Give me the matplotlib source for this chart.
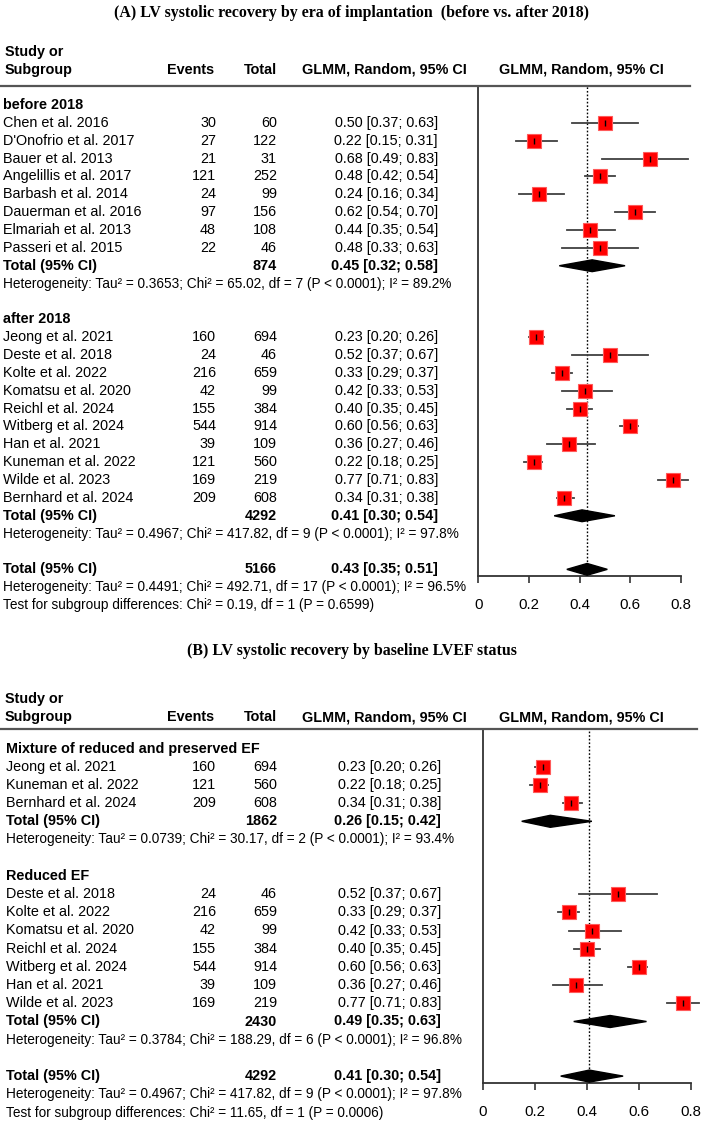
import matplotlib.pyplot as plt
from matplotlib.lines import Line2D
from matplotlib.patches import Polygon
from matplotlib.transforms import blended_transform_factory

plt.rcParams["font.family"] = ["Liberation Sans", "DejaVu Sans"]

W, H = 703, 1123

# ---------------- Panel A: era of implantation ----------------
a_title = "(A) LV systolic recovery by era of implantation  (before vs. after 2018)"
a_groups = ["before 2018", "after 2018"]

a1_studies = ["Chen et al. 2016", "D'Onofrio et al. 2017", "Bauer et al. 2013",
              "Angelillis et al. 2017", "Barbash et al. 2014", "Dauerman et al. 2016",
              "Elmariah et al. 2013", "Passeri et al. 2015"]
a1_events = [30, 27, 21, 121, 24, 97, 48, 22]
a1_total = [60, 122, 31, 252, 99, 156, 108, 46]
a1_est = [0.50, 0.22, 0.68, 0.48, 0.24, 0.62, 0.44, 0.48]
a1_lo = [0.37, 0.15, 0.49, 0.42, 0.16, 0.54, 0.35, 0.33]
a1_hi = [0.63, 0.31, 0.83, 0.54, 0.34, 0.70, 0.54, 0.63]

a2_studies = ["Jeong et al. 2021", "Deste et al. 2018", "Kolte et al. 2022",
              "Komatsu et al. 2020", "Reichl et al. 2024", "Witberg et al. 2024",
              "Han et al. 2021", "Kuneman et al. 2022", "Wilde et al. 2023",
              "Bernhard et al. 2024"]
a2_events = [160, 24, 216, 42, 155, 544, 39, 121, 169, 209]
a2_total = [694, 46, 659, 99, 384, 914, 109, 560, 219, 608]
a2_est = [0.23, 0.52, 0.33, 0.42, 0.40, 0.60, 0.36, 0.22, 0.77, 0.34]
a2_lo = [0.20, 0.37, 0.29, 0.33, 0.35, 0.56, 0.27, 0.18, 0.71, 0.31]
a2_hi = [0.26, 0.67, 0.37, 0.53, 0.45, 0.63, 0.46, 0.25, 0.83, 0.38]

a_sub_n = [874, 4292]
a_sub_est = [0.45, 0.41]
a_sub_lo = [0.32, 0.30]
a_sub_hi = [0.58, 0.54]
a_sub_het = ["Heterogeneity: Tau² = 0.3653; Chi² = 65.02, df = 7 (P < 0.0001); I² = 89.2%",
             "Heterogeneity: Tau² = 0.4967; Chi² = 417.82, df = 9 (P < 0.0001); I² = 97.8%"]
a_all = (5166, 0.43, 0.35, 0.51)
a_all_het = "Heterogeneity: Tau² = 0.4491; Chi² = 492.71, df = 17 (P < 0.0001); I² = 96.5%"
a_test = "Test for subgroup differences: Chi² = 0.19, df = 1 (P = 0.6599)"

# ---------------- Panel B: baseline LVEF ----------------
b_title = "(B) LV systolic recovery by baseline LVEF status"
b_groups = ["Mixture of reduced and preserved EF", "Reduced EF"]

b1_studies = ["Jeong et al. 2021", "Kuneman et al. 2022", "Bernhard et al. 2024"]
b1_events = [160, 121, 209]
b1_total = [694, 560, 608]
b1_est = [0.23, 0.22, 0.34]
b1_lo = [0.20, 0.18, 0.31]
b1_hi = [0.26, 0.25, 0.38]

b2_studies = ["Deste et al. 2018", "Kolte et al. 2022", "Komatsu et al. 2020",
              "Reichl et al. 2024", "Witberg et al. 2024", "Han et al. 2021",
              "Wilde et al. 2023"]
b2_events = [24, 216, 42, 155, 544, 39, 169]
b2_total = [46, 659, 99, 384, 914, 109, 219]
b2_est = [0.52, 0.33, 0.42, 0.40, 0.60, 0.36, 0.77]
b2_lo = [0.37, 0.29, 0.33, 0.35, 0.56, 0.27, 0.71]
b2_hi = [0.67, 0.37, 0.53, 0.45, 0.63, 0.46, 0.83]

b_sub_n = [1862, 2430]
b_sub_est = [0.26, 0.49]
b_sub_lo = [0.15, 0.35]
b_sub_hi = [0.42, 0.63]
b_sub_het = ["Heterogeneity: Tau² = 0.0739; Chi² = 30.17, df = 2 (P < 0.0001); I² = 93.4%",
             "Heterogeneity: Tau² = 0.3784; Chi² = 188.29, df = 6 (P < 0.0001); I² = 96.8%"]
b_all = (4292, 0.41, 0.30, 0.54)
b_all_het = "Heterogeneity: Tau² = 0.4967; Chi² = 417.82, df = 9 (P < 0.0001); I² = 97.8%"
b_test = "Test for subgroup differences: Chi² = 11.65, df = 1 (P = 0.0006)"

x_ticks = [0, 0.2, 0.4, 0.6, 0.8]

FS = 10.4      # table text
FS_HET = 9.8   # heterogeneity lines


def ci_text(e, lo, hi):
    return f"{e:.2f} [{lo:.2f}; {hi:.2f}]"


def draw_panel(fig, title, groups, studies, events, totals, est, lo, hi,
               sub_n, sub_est, sub_lo, sub_hi, sub_het, overall, all_het, test, lay):
    px = lambda x: x / W
    py = lambda y: 1 - y / H

    fig.text(px(352), py(lay["title_y"]), title, ha="center", va="center",
             family="Liberation Serif", weight="bold", fontsize=11.4)

    # column headers
    hy1, hy2 = lay["head_y"], lay["head_y"] + 18
    hkw = dict(weight="bold", fontsize=FS, va="center")
    fig.text(px(5), py(hy1), "Study or", **hkw)
    fig.text(px(5), py(hy2), "Subgroup", **hkw)
    fig.text(px(167), py(hy2), "Events", **hkw)
    fig.text(px(244), py(hy2), "Total", **hkw)
    fig.text(px(302), py(hy2), "GLMM, Random, 95% CI", **hkw)
    fig.text(px(499), py(hy2), "GLMM, Random, 95% CI", **hkw)
    fig.add_artist(Line2D([0, px(lay["line_x1"])], [py(lay["ytop"])] * 2,
                          color="#555555", lw=1.6))

    ax = fig.add_axes([px(lay["x0"]), py(lay["ybot"]),
                       px(lay["x1"] - lay["x0"]), (lay["ybot"] - lay["ytop"]) / H])
    r_top = (lay["ytop"] - lay["row0"]) / lay["step"]
    r_bot = (lay["ybot"] - lay["row0"]) / lay["step"]
    ax.set_xlim(0, 0.8)
    ax.set_ylim(r_bot, r_top)
    ax.set_facecolor("none")
    for s in ["top", "right"]:
        ax.spines[s].set_visible(False)
    ax.spines["left"].set_color("#333333")
    ax.spines["left"].set_linewidth(1.3)
    ax.spines["bottom"].set_color("#333333")
    ax.spines["bottom"].set_linewidth(1.3)
    ax.set_yticks([])
    ax.set_xticks(x_ticks)
    ax.set_xticklabels([f"{t:g}" for t in x_ticks])
    ax.tick_params(axis="x", length=5, width=1.2, color="#333333",
                   labelsize=10.8, pad=11)

    tr = blended_transform_factory(fig.transFigure, ax.transData)
    xs, xe, xt, xc = px(lay["xs"]), px(216), px(277), px(lay["xc"])

    ax.axvline(overall[1], color="black", ls=(0, (1.2, 1.4)), lw=1.0, zorder=1)

    r = 0
    for g in range(2):
        fig.text(xs, r, groups[g], transform=tr, weight="bold", fontsize=FS, va="center")
        r += 1
        for i in range(len(studies[g])):
            fig.text(xs, r, studies[g][i], transform=tr, fontsize=FS, va="center")
            fig.text(xe, r, str(events[g][i]), transform=tr, fontsize=FS, va="center", ha="right")
            fig.text(xt, r, str(totals[g][i]), transform=tr, fontsize=FS, va="center", ha="right")
            fig.text(xc, r, ci_text(est[g][i], lo[g][i], hi[g][i]), transform=tr,
                     fontsize=FS, va="center", ha="right")
            ax.plot([lo[g][i], hi[g][i]], [r, r], color="#404040", lw=1.3,
                    zorder=2, clip_on=False)
            ax.plot(est[g][i], r, marker="s", ms=10.2, color="#ff0000",
                    mec="#ff5a5a", mew=0.8, zorder=3, clip_on=False)
            ax.plot(est[g][i], r, marker="|", ms=5, color="black", mew=1.0,
                    zorder=4, clip_on=False)
            r += 1
        fig.text(xs, r, "Total (95% CI)", transform=tr, weight="bold", fontsize=FS, va="center")
        fig.text(xt, r, str(sub_n[g]), transform=tr, weight="bold", fontsize=FS,
                 va="center", ha="right")
        fig.text(xc, r, ci_text(sub_est[g], sub_lo[g], sub_hi[g]), transform=tr,
                 weight="bold", fontsize=FS, va="center", ha="right")
        ax.add_patch(Polygon([(sub_lo[g], r), (sub_est[g], r - 0.33),
                              (sub_hi[g], r), (sub_est[g], r + 0.33)],
                             closed=True, color="black", zorder=3))
        r += 1
        fig.text(xs, r, sub_het[g], transform=tr, fontsize=FS_HET, va="center")
        r += 2

    fig.text(xs, r, "Total (95% CI)", transform=tr, weight="bold", fontsize=FS, va="center")
    fig.text(xt, r, str(overall[0]), transform=tr, weight="bold", fontsize=FS,
             va="center", ha="right")
    fig.text(xc, r, ci_text(*overall[1:]), transform=tr, weight="bold",
             fontsize=FS, va="center", ha="right")
    ax.add_patch(Polygon([(overall[2], r), (overall[1], r - 0.33),
                          (overall[3], r), (overall[1], r + 0.33)],
                         closed=True, color="black", zorder=3, clip_on=False))
    fig.text(xs, r + 1, all_het, transform=tr, fontsize=FS_HET, va="center")
    fig.text(xs, r + 2, test, transform=tr, fontsize=FS_HET, va="center")
    return ax


fig = plt.figure(figsize=(W / 100, H / 100), dpi=100)
fig.patch.set_facecolor("white")

lay_a = dict(title_y=13, head_y=52, ytop=86, ybot=576, row0=105, step=17.86,
             x0=478.3, x1=680.7, xs=3, xc=438, line_x1=690)
draw_panel(fig, a_title, a_groups,
           [a1_studies, a2_studies], [a1_events, a2_events], [a1_total, a2_total],
           [a1_est, a2_est], [a1_lo, a2_lo], [a1_hi, a2_hi],
           a_sub_n, a_sub_est, a_sub_lo, a_sub_hi, a_sub_het,
           a_all, a_all_het, a_test, lay_a)

lay_b = dict(title_y=651, head_y=699, ytop=729, ybot=1082.7, row0=748.5, step=18.2,
             x0=482.7, x1=690.7, xs=6, xc=441, line_x1=697)
draw_panel(fig, b_title, b_groups,
           [b1_studies, b2_studies], [b1_events, b2_events], [b1_total, b2_total],
           [b1_est, b2_est], [b1_lo, b2_lo], [b1_hi, b2_hi],
           b_sub_n, b_sub_est, b_sub_lo, b_sub_hi, b_sub_het,
           b_all, b_all_het, b_test, lay_b)

fig.savefig("out.png", dpi=100)
